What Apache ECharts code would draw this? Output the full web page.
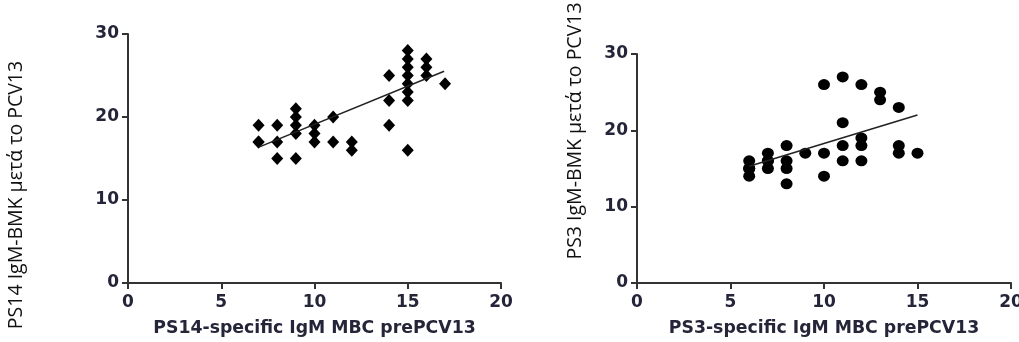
<!DOCTYPE html>
<html>
<head>
<meta charset="utf-8">
<script src="https://cdn.jsdelivr.net/npm/echarts@6/dist/echarts.min.js"></script>
<style>html,body{margin:0;padding:0;background:#fff}#c{width:1019px;height:342px}</style>
</head>
<body>
<div id="c"></div>
<script>
// ---- data ----
const xTicks = [0, 5, 10, 15, 20];
const yTicks = [0, 10, 20, 30];

const ps14X = [7,7,7,8,8,8,9,9,9,9,9,10,10,10,11,11,12,12,14,14,14,15,15,15,15,15,15,15,15,16,16,16,17];
const ps14Y = [19,17,17,19,17,15,21,20,19,18,15,19,18,17,20,17,17,16,25,22,19,28,27,26,25,24,23,22,16,27,26,25,24];
const ps14FitX = [7.05, 16.95];
const ps14FitY = [16.4, 25.5];

const ps3X = [6,6,6,6,7,7,7,7,8,8,8,8,9,10,10,10,11,11,11,11,12,12,12,12,13,13,14,14,14,15];
const ps3Y = [16,15,15,14,17,16,16,15,18,16,15,13,17,26,17,14,27,21,18,16,26,19,18,16,25,24,23,18,17,17];
const ps3FitX = [6.0, 15];
const ps3FitY = [15.3, 22.0];

const xTitle1 = 'PS14-specific IgM MBC prePCV13';
const xTitle2 = 'PS3-specific IgM MBC prePCV13';
const yTitle1 = 'PS14 IgM-BMK μετά το PCV13';
const yTitle2 = 'PS3 IgM-BMK μετά το PCV13';

const zip = (a, b) => a.map((v, i) => [v, b[i]]);

const axisCol = '#333333';
const labCol = '#25253a';
const tickFont = { color: labCol, fontFamily: 'DejaVu Sans', fontWeight: 'bold', fontSize: 17 };

function xAx(grid, title) {
  return {
    type: 'value', gridIndex: grid, min: 0, max: 20, interval: 5,
    splitLine: { show: false },
    axisLine: { show: true, onZero: false, lineStyle: { color: axisCol, width: 2 } },
    axisTick: { show: true, length: 6, lineStyle: { color: axisCol, width: 2 } },
    axisLabel: Object.assign({ margin: 11, showMinLabel: true, showMaxLabel: true, hideOverlap: false }, tickFont),
    name: title, nameLocation: 'middle', nameGap: 37,
    nameTextStyle: { color: labCol, fontFamily: 'DejaVu Sans', fontWeight: 'bold', fontSize: 17.3 }
  };
}
function yAx(grid) {
  return {
    type: 'value', gridIndex: grid, min: 0, max: 30, interval: 10,
    splitLine: { show: false },
    axisLine: { show: true, onZero: false, lineStyle: { color: axisCol, width: 2 } },
    axisTick: { show: true, length: 6, lineStyle: { color: axisCol, width: 2 } },
    axisLabel: Object.assign({ margin: 9 }, tickFont)
  };
}

const chart = echarts.init(document.getElementById('c'), null, { renderer: 'canvas' });
chart.setOption({
  animation: false,
  backgroundColor: '#ffffff',
  grid: [
    { left: 128, top: 34, width: 373, height: 249, outerBoundsMode: 'none', containLabel: false },
    { left: 637, top: 54, width: 374, height: 229, outerBoundsMode: 'none', containLabel: false }
  ],
  xAxis: [xAx(0, xTitle1), xAx(1, xTitle2)],
  yAxis: [yAx(0), yAx(1)],
  series: [
    { type: 'scatter', xAxisIndex: 0, yAxisIndex: 0, symbol: 'diamond', symbolSize: [12, 13],
      itemStyle: { color: '#000', opacity: 1 }, data: zip(ps14X, ps14Y) },
    { type: 'line', xAxisIndex: 0, yAxisIndex: 0, symbol: 'none',
      lineStyle: { color: '#222', width: 1.6 }, data: zip(ps14FitX, ps14FitY) },
    { type: 'scatter', xAxisIndex: 1, yAxisIndex: 1, symbol: 'circle', symbolSize: [12, 11],
      itemStyle: { color: '#000', opacity: 1 }, data: zip(ps3X, ps3Y) },
    { type: 'line', xAxisIndex: 1, yAxisIndex: 1, symbol: 'none',
      lineStyle: { color: '#222', width: 1.6 }, data: zip(ps3FitX, ps3FitY) }
  ],
  graphic: [
    { type: 'text', x: 16, y: 195, rotation: Math.PI / 2,
      style: { text: yTitle1, fill: '#111', font: '19.5px "Open Sans"', align: 'center', verticalAlign: 'middle' } },
    { type: 'text', x: 575, y: 131, rotation: Math.PI / 2,
      style: { text: yTitle2, fill: '#111', font: '19.5px "Open Sans"', align: 'center', verticalAlign: 'middle' } }
  ]
});
</script>
</body>
</html>
